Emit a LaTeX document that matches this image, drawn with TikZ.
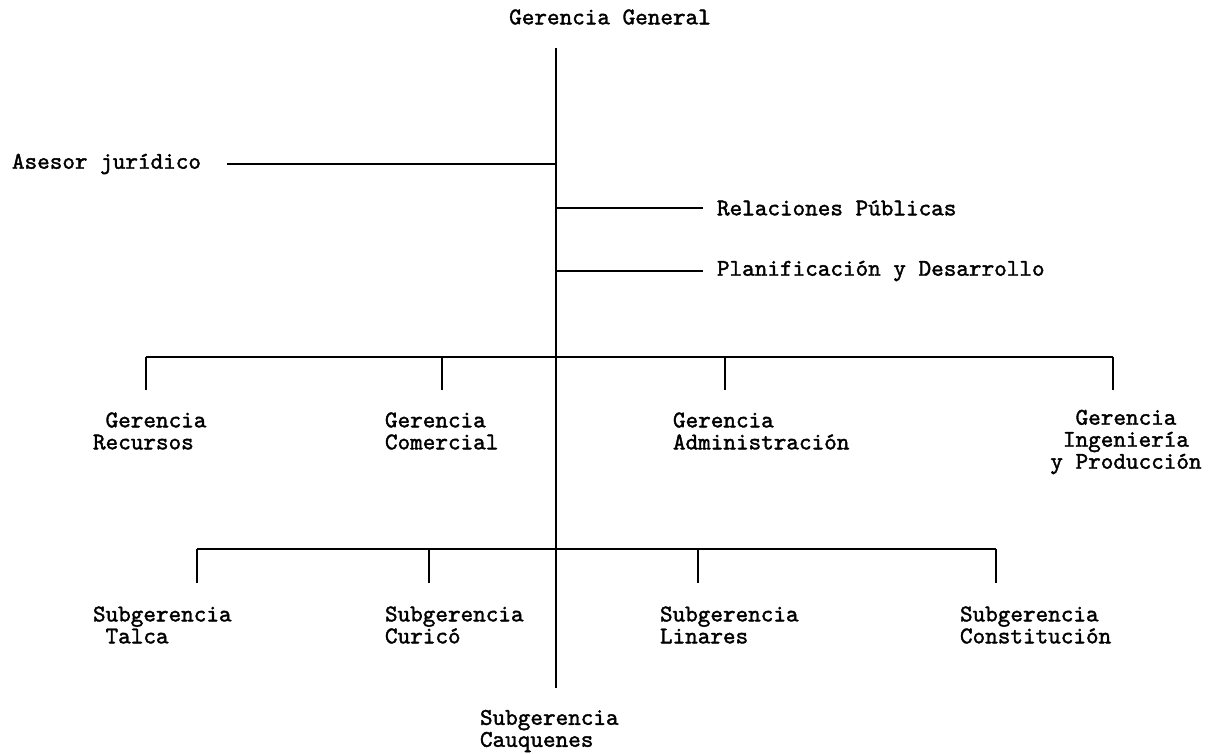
\documentclass[tikz,border=0pt]{standalone}
\usepackage{fontspec}
\newfontfamily\orgfont{lmmono10-regular.otf}[FakeBold=1.6]
\usetikzlibrary{positioning}

\begin{document}
\begin{tikzpicture}[x=0.5pt, y=-0.5pt,
  font=\orgfont\fontsize{12}{11}\selectfont,
  unit/.style={inner sep=0pt, outer sep=0pt, anchor=west, align=left},
  link/.style={line width=0.8pt, black}]
  \useasboundingbox (0,0) rectangle (1225,754);
  % cabeza y tronco
  \node[inner sep=0pt] (gg) at (610,17) {Gerencia General};
  \coordinate (top) at (556,48);
  \coordinate (bottom) at (556,688);
  \draw[link] (top) -- (bottom);
  % staff
  \node[unit] (aj) at (12,164) {Asesor jurídico};
  \node[unit] (rp) at (717,208) {Relaciones Públicas};
  \node[unit] (pd) at (717,271) {Planificación y Desarrollo};
  \coordinate (j-aj) at (556,164);
  \coordinate (j-rp) at (556,208);
  \coordinate (j-pd) at (556,271);
  \draw[link, shorten <=13pt] (aj) -- (j-aj);
  \draw[link, shorten >=7pt] (j-rp) -- (rp);
  \draw[link, shorten >=7pt] (j-pd) -- (pd);
  % gerencias
  \foreach \n/\x in {gr/146, gc/442, ga/725, gi/1113} {
    \coordinate (\n-bus) at (\x,357);
    \coordinate (\n-end) at (\x,390);
    \draw[link] (\n-bus) -- (\n-end);
  }
  \draw[link] (gr-bus) -- (gi-bus);
  \node[unit] (gr) at (93,431) {\hphantom{R}Gerencia\\Recursos};
  \node[unit] (gc) at (385,431) {Gerencia\\Comercial};
  \node[unit] (ga) at (673,431) {Gerencia\\Administración};
  \node[inner sep=0pt, align=center] (gi) at (1126,442) {Gerencia\\Ingeniería\\y Producción};
  % subgerencias
  \foreach \n/\x in {st/197, scu/429, sl/698, sco/996} {
    \coordinate (\n-bus) at (\x,549);
    \coordinate (\n-end) at (\x,583);
    \draw[link] (\n-bus) -- (\n-end);
  }
  \draw[link] (st-bus) -- (sco-bus);
  \node[unit] (st) at (93,625) {Subgerencia\\\hphantom{S}Talca};
  \node[unit] (scu) at (385,625) {Subgerencia\\Curicó};
  \node[unit] (sl) at (660,625) {Subgerencia\\Linares};
  \node[unit] (sco) at (960,625) {Subgerencia\\Constitución};
  \node[unit] (sca) at (480,731) {Subgerencia\\Cauquenes};
\end{tikzpicture}
\end{document}
